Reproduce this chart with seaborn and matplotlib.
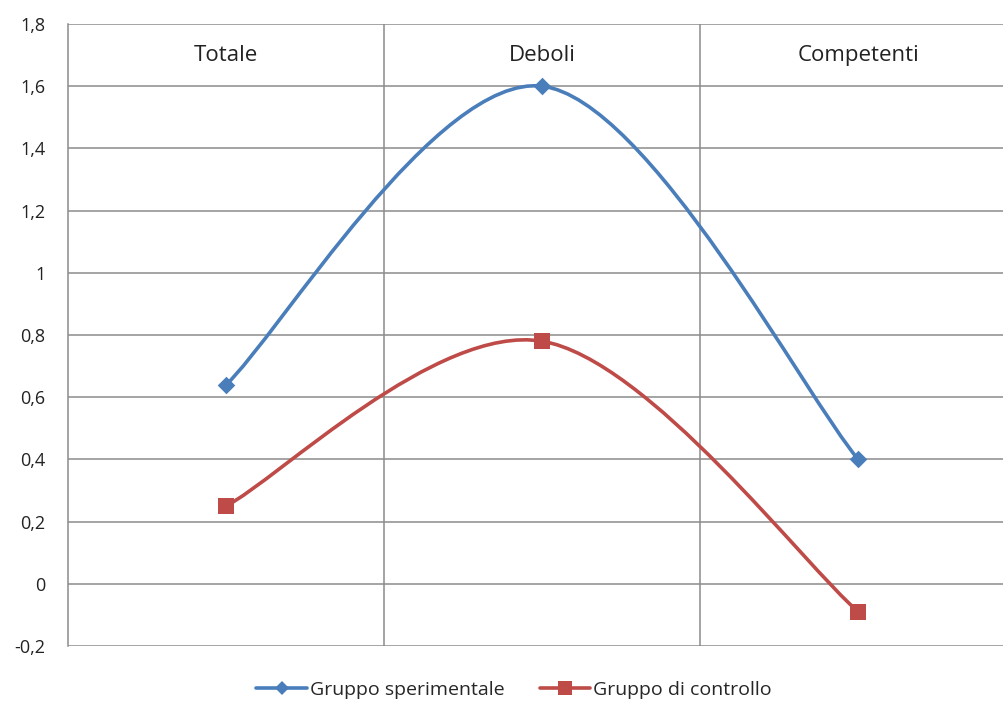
import matplotlib
matplotlib.use("Agg")
import matplotlib.pyplot as plt
from matplotlib.path import Path
from matplotlib.patches import PathPatch
from matplotlib.lines import Line2D
import pandas as pd
import seaborn as sns

# Dati
categorie = ["Totale", "Deboli", "Competenti"]
sperimentale = [0.64, 1.60, 0.40]
controllo = [0.25, 0.78, -0.09]
serie = ["Gruppo sperimentale", "Gruppo di controllo"]
y_ticks = [-0.2, 0, 0.2, 0.4, 0.6, 0.8, 1, 1.2, 1.4, 1.6, 1.8]

colori = {"Gruppo sperimentale": "#4A7EBB", "Gruppo di controllo": "#BE4B48"}
marcatori = {"Gruppo sperimentale": "D", "Gruppo di controllo": "s"}

sns.set_style("white")
plt.rcParams["font.family"] = ["Open Sans", "DejaVu Sans"]

df = pd.DataFrame({
    "x": list(range(len(categorie))) * 2,
    "valore": sperimentale + controllo,
    "serie": [serie[0]] * 3 + [serie[1]] * 3,
})

fig = plt.figure(figsize=(10.04, 7.04), dpi=100)
ax = fig.add_axes([68 / 1004, 58 / 704, 936 / 1004, 622 / 704])


def curva_liscia(xs, ys):
    # linea smussata tipo Excel (Bezier Catmull-Rom)
    pts = list(zip(xs, ys))
    verts = [pts[0]]
    codes = [Path.MOVETO]
    n = len(pts)
    for i in range(n - 1):
        p0 = pts[i - 1] if i > 0 else pts[i]
        p1 = pts[i]
        p2 = pts[i + 1]
        p3 = pts[i + 2] if i + 2 < n else pts[i + 1]
        c1 = (p1[0] + (p2[0] - p0[0]) / 6, p1[1] + (p2[1] - p0[1]) / 6)
        c2 = (p2[0] - (p3[0] - p1[0]) / 6, p2[1] - (p3[1] - p1[1]) / 6)
        verts += [c1, c2, p2]
        codes += [Path.CURVE4] * 3
    return Path(verts, codes)


for nome in serie:
    sub = df[df["serie"] == nome]
    patch = PathPatch(curva_liscia(sub["x"].tolist(), sub["valore"].tolist()),
                      facecolor="none", edgecolor=colori[nome], lw=2.6,
                      zorder=3, capstyle="round")
    ax.add_patch(patch)

# marcatori sui punti
sns.scatterplot(data=df[df["serie"] == serie[0]], x="x", y="valore",
                color=colori[serie[0]], marker="D", s=80, linewidth=0,
                ax=ax, legend=False, zorder=4)
sns.scatterplot(data=df[df["serie"] == serie[1]], x="x", y="valore",
                color=colori[serie[1]], marker="s", s=130, linewidth=0,
                ax=ax, legend=False, zorder=4)

ax.set_xlim(-0.5, 2.461)
ax.set_ylim(-0.2, 1.8)
ax.set_yticks(y_ticks)
ax.set_yticklabels([f"{v:g}".replace(".", ",") for v in y_ticks], fontsize=13, color="#222222")
ax.set_xticks([])
ax.set_xlabel("")
ax.set_ylabel("")

# griglia
for v in y_ticks:
    ax.axhline(v, color="#8c8c8c", lw=1.1, zorder=1)
for xv in [0.5, 1.5]:
    ax.axvline(xv, color="#8c8c8c", lw=1.1, zorder=1)

for side in ["top", "right", "bottom"]:
    ax.spines[side].set_visible(False)
ax.spines["left"].set_color("#8c8c8c")
ax.spines["left"].set_linewidth(1.1)
ax.tick_params(axis="y", length=5.8, color="#8c8c8c", width=1.1, pad=10.5)

# etichette categorie in alto
for i, c in enumerate(categorie):
    ax.text(i, 1.7, c, ha="center", va="center", fontsize=16, color="#222222")

handles = [Line2D([0], [0], color=colori[n], lw=2.6, marker=marcatori[n],
                  markersize=7.5 if n == serie[0] else 9.5, markeredgewidth=0) for n in serie]
fig.legend(handles, serie, loc="center", bbox_to_anchor=(0.512, 0.02),
           ncol=2, frameon=False, fontsize=14, handlelength=2.6,
           handletextpad=0.15, columnspacing=1.8)

fig.savefig("out.png", dpi=100)
